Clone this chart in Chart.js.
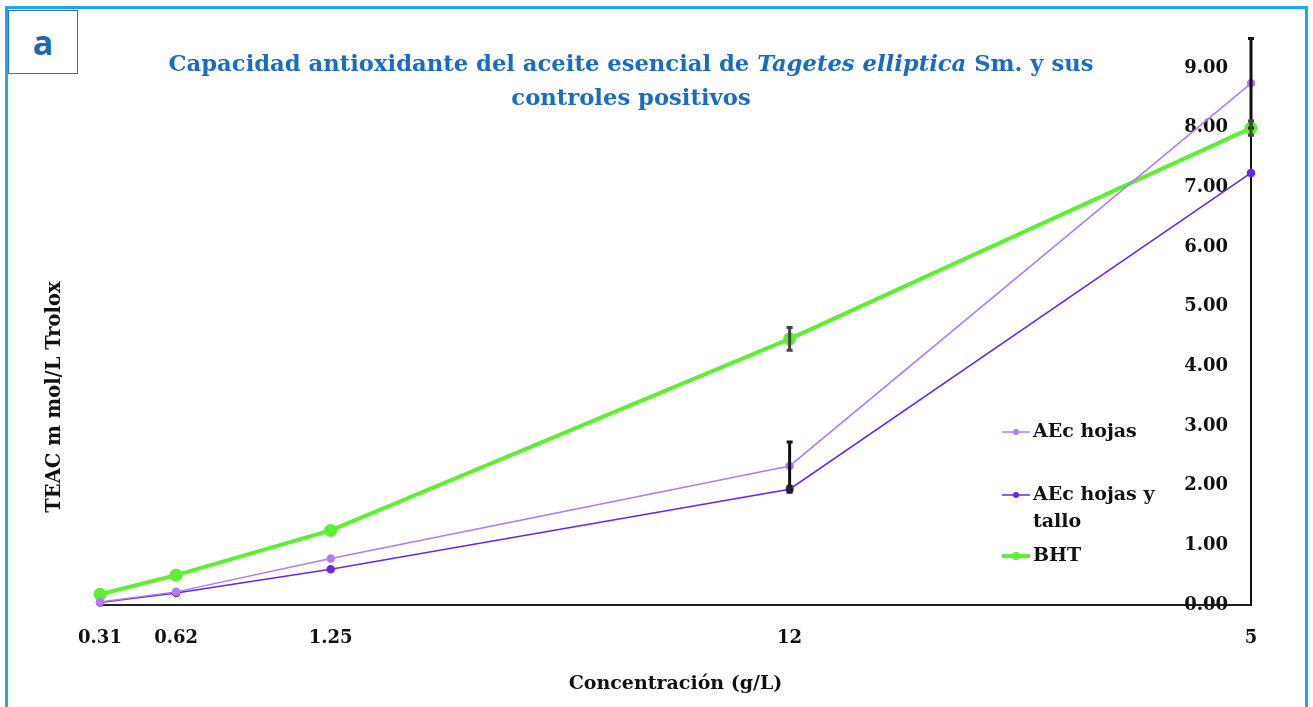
<!DOCTYPE html>
<html>
<head>
<meta charset="utf-8">
<script src="https://cdn.jsdelivr.net/npm/chart.js@4.4.0/dist/chart.umd.min.js"></script>
<style>
  body { margin: 0; background: #fff; }
  #wrap { position: relative; width: 1313px; height: 707px; overflow: hidden; }
  #frame { position: absolute; left: 5px; top: 6px; width: 1297px; height: 720px; border: 3px solid #1aa9ef; }
  #tag { position: absolute; left: 8px; top: 10px; width: 68px; height: 62px; border: 1.5px solid #2f72b8;
         font: bold 34px "Open Sans", sans-serif; color: #1f66b8; text-align: center; line-height: 62px; background: #fff; }
  #title { position: absolute; left: 0; width: 1262px; top: 46px; text-align: center;
           font: bold 22.7px "DejaVu Serif", serif; color: #1b6cc0; line-height: 34px; }
  canvas { position: absolute; left: 0; top: 0; }
</style>
</head>
<body>
<div id="wrap">
  <div id="frame"></div>
  <canvas id="chart" width="1313" height="707"></canvas>
  <div id="tag">a</div>
  <div id="title">Capacidad antioxidante del aceite esencial de <i>Tagetes elliptica</i> Sm. y sus<br>controles positivos</div>
</div>
<script>
// concentration (position on axis) and printed tick labels
const xValues = [0.31, 0.62, 1.25, 3.12, 5];
const xLabels = ['0.31', '0.62', '1.25', '12', '5'];
const yTicks = [0, 1, 2, 3, 4, 5, 6, 7, 8, 9];

const seriesNames = ['AEc hojas', 'AEc hojas y tallo', 'BHT'];
const hojas = [0.05, 0.22, 0.78, 2.33, 8.74];
const hojasTallo = [0.04, 0.20, 0.60, 1.94, 7.24];
const bht = [0.18, 0.50, 1.25, 4.46, 7.99];

// error bars (+/-)
const hojasErr = [0, 0, 0, 0.40, 0.75];
const hojasTalloErr = [0, 0, 0, 0.05, 0];
const bhtErr = [0, 0, 0, 0.19, 0.12];

const toPoints = arr => arr.map((v, i) => ({ x: xValues[i], y: v }));

const errorBars = {
    id: 'errorBars',
    afterDatasetsDraw(chart) {
        const ctx = chart.ctx;
        const xs = chart.scales.x, ys = chart.scales.y;
        chart.data.datasets.forEach(ds => {
            ds.errors.forEach((e, i) => {
                if (!e) return;
                const px = xs.getPixelForValue(xValues[i]);
                const top = ys.getPixelForValue(ds.data[i].y + e);
                const bot = ys.getPixelForValue(ds.data[i].y - e);
                ctx.save();
                ctx.strokeStyle = ds.errColor;
                ctx.lineWidth = 3;
                ctx.beginPath();
                ctx.moveTo(px, top); ctx.lineTo(px, bot);
                ctx.moveTo(px - 3, top); ctx.lineTo(px + 3, top);
                ctx.moveTo(px - 3, bot); ctx.lineTo(px + 3, bot);
                ctx.stroke();
                ctx.restore();
            });
        });
    }
};

// legend drawn inside the plot, with wrapping labels
const sideLegend = {
    id: 'sideLegend',
    afterDraw(chart, args, opts) {
        const ctx = chart.ctx;
        ctx.save();
        ctx.font = 'bold 19px "DejaVu Serif", serif';
        ctx.textBaseline = 'middle';
        chart.data.datasets.forEach((ds, k) => {
            const y = opts.rows[k];
            ctx.strokeStyle = ds.borderColor;
            ctx.lineWidth = ds.borderWidth;
            ctx.beginPath();
            ctx.moveTo(opts.x, y); ctx.lineTo(opts.x + 28, y);
            ctx.stroke();
            ctx.fillStyle = ds.borderColor;
            ctx.beginPath();
            ctx.arc(opts.x + 14, y, ds.pointRadius - 0.5, 0, Math.PI * 2);
            ctx.fill();
            // wrap words
            const words = ds.label.split(' ');
            let line = '', ly = y;
            ctx.fillStyle = '#111';
            words.forEach(w => {
                const test = line ? line + ' ' + w : w;
                if (ctx.measureText(test).width > opts.maxWidth && line) {
                    ctx.fillText(line, opts.x + 31, ly);
                    line = w; ly += 27;
                } else line = test;
            });
            ctx.fillText(line, opts.x + 31, ly);
        });
        ctx.restore();
    }
};

const axisTitles = {
    id: 'axisTitles',
    afterDraw(chart) {
        const ctx = chart.ctx;
        const a = chart.chartArea;
        ctx.save();
        ctx.fillStyle = '#111';
        ctx.textAlign = 'center';
        ctx.textBaseline = 'middle';
        ctx.font = 'bold 19px "DejaVu Serif", serif';
        ctx.fillText('Concentración (g/L)', (a.left + a.right) / 2, 684);
        ctx.translate(55, 397);
        ctx.rotate(-Math.PI / 2);
        ctx.font = 'bold 19.5px "DejaVu Serif", serif';
        ctx.fillText('TEAC m mol/L Trolox', 0, 0);
        ctx.restore();
    }
};

const ctx = document.getElementById('chart').getContext('2d');
new Chart(ctx, {
    type: 'line',
    data: {
        datasets: [
            { label: seriesNames[0], data: toPoints(hojas), errors: hojasErr, errColor: '#111',
              borderColor: '#b07cf2', backgroundColor: '#b07cf2', borderWidth: 1.5, pointRadius: 3.5, clip: false },
            { label: seriesNames[1], data: toPoints(hojasTallo), errors: hojasTalloErr, errColor: '#222',
              borderColor: '#6a24ee', backgroundColor: '#6a24ee', borderWidth: 1.5, pointRadius: 3.5, clip: false },
            { label: seriesNames[2], data: toPoints(bht), errors: bhtErr, errColor: '#444',
              borderColor: '#5cf030', backgroundColor: '#5cf030', borderWidth: 4, pointRadius: 4.5, clip: false }
        ]
    },
    options: {
        responsive: false,
        animation: false,
        layout: { padding: { left: 100, right: 60, top: 38, bottom: 0 } },
        plugins: {
            legend: { display: false },
            tooltip: { enabled: false },
            sideLegend: { x: 1002, rows: [432, 495, 556], maxWidth: 130 }
        },
        scales: {
            x: {
                type: 'linear',
                min: 0.31, max: 5,
                grid: { display: false },
                border: { display: true, color: '#222', width: 2 },
                afterBuildTicks: s => { s.ticks = xValues.map(v => ({ value: v })); },
                afterFit: s => { s.height = 102; },
                ticks: {
                    autoSkip: false, maxRotation: 0, padding: 15, color: '#111',
                    font: { family: 'DejaVu Serif', weight: 'bold', size: 18 },
                    callback: (v, i) => xLabels[i]
                }
            },
            y: {
                position: 'right',
                min: 0, max: 9.5,
                grid: { display: false },
                border: { display: true, color: '#111', width: 2 },
                afterBuildTicks: s => { s.ticks = yTicks.map(v => ({ value: v })); },
                afterFit: s => { s.width = 2; },
                ticks: {
                    mirror: true, padding: -23, color: '#111',
                    font: { family: 'DejaVu Serif', weight: 'bold', size: 18 },
                    callback: v => v.toFixed(2)
                }
            }
        }
    },
    plugins: [errorBars, sideLegend, axisTitles]
});
</script>
</body>
</html>
